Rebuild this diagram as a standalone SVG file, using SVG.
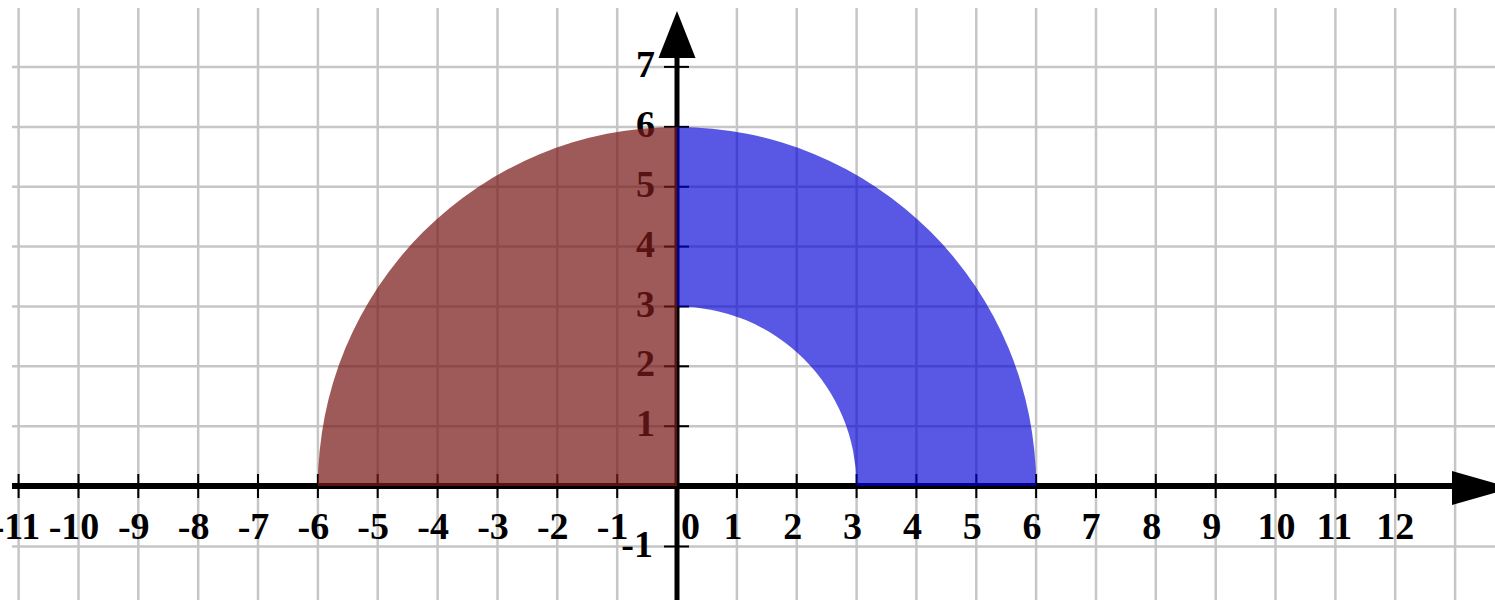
<svg xmlns="http://www.w3.org/2000/svg" width="1495" height="600" viewBox="0 0 1495 600">
<style>
.grid line{stroke:#c6c6c6;stroke-width:2.5}
.tick{stroke:#000;stroke-width:2}
.lbl{font-family:"Liberation Serif","Times New Roman",serif;font-weight:bold;font-size:38px;fill:#000}
.xl{text-anchor:middle}
.yl{text-anchor:end}
</style>
<rect x="0" y="0" width="1495" height="600" fill="#fff"/>
<g id="grid" class="grid">
<line x1="18.6" y1="8" x2="18.6" y2="600"/>
<line x1="78.5" y1="8" x2="78.5" y2="600"/>
<line x1="138.3" y1="8" x2="138.3" y2="600"/>
<line x1="198.2" y1="8" x2="198.2" y2="600"/>
<line x1="258" y1="8" x2="258" y2="600"/>
<line x1="317.9" y1="8" x2="317.9" y2="600"/>
<line x1="377.7" y1="8" x2="377.7" y2="600"/>
<line x1="437.6" y1="8" x2="437.6" y2="600"/>
<line x1="497.5" y1="8" x2="497.5" y2="600"/>
<line x1="557.3" y1="8" x2="557.3" y2="600"/>
<line x1="617.2" y1="8" x2="617.2" y2="600"/>
<line x1="736.9" y1="8" x2="736.9" y2="600"/>
<line x1="796.7" y1="8" x2="796.7" y2="600"/>
<line x1="856.6" y1="8" x2="856.6" y2="600"/>
<line x1="916.4" y1="8" x2="916.4" y2="600"/>
<line x1="976.3" y1="8" x2="976.3" y2="600"/>
<line x1="1036.1" y1="8" x2="1036.1" y2="600"/>
<line x1="1096" y1="8" x2="1096" y2="600"/>
<line x1="1155.8" y1="8" x2="1155.8" y2="600"/>
<line x1="1215.7" y1="8" x2="1215.7" y2="600"/>
<line x1="1275.5" y1="8" x2="1275.5" y2="600"/>
<line x1="1335.4" y1="8" x2="1335.4" y2="600"/>
<line x1="1395.2" y1="8" x2="1395.2" y2="600"/>
<line x1="1455.1" y1="8" x2="1455.1" y2="600"/>
<line x1="12" y1="66.9" x2="1495" y2="66.9"/>
<line x1="12" y1="126.9" x2="1495" y2="126.9"/>
<line x1="12" y1="186.8" x2="1495" y2="186.8"/>
<line x1="12" y1="246.6" x2="1495" y2="246.6"/>
<line x1="12" y1="306.5" x2="1495" y2="306.5"/>
<line x1="12" y1="366.3" x2="1495" y2="366.3"/>
<line x1="12" y1="426.2" x2="1495" y2="426.2"/>
<line x1="12" y1="546.5" x2="1495" y2="546.5"/>
</g>
<g id="axes">
<line x1="12" y1="486" x2="1455" y2="486" stroke="#000" stroke-width="6"/>
<line x1="677" y1="56" x2="677" y2="600" stroke="#000" stroke-width="5"/>
<polygon points="677,11 695.5,58 658.5,58" fill="#000"/>
<polygon points="1452,471 1512,488 1452,505" fill="#000"/>
</g>
<g id="ticks" class="tick">
<line x1="18.6" y1="474" x2="18.6" y2="498"/>
<line x1="78.5" y1="474" x2="78.5" y2="498"/>
<line x1="138.3" y1="474" x2="138.3" y2="498"/>
<line x1="198.2" y1="474" x2="198.2" y2="498"/>
<line x1="258" y1="474" x2="258" y2="498"/>
<line x1="317.9" y1="474" x2="317.9" y2="498"/>
<line x1="377.7" y1="474" x2="377.7" y2="498"/>
<line x1="437.6" y1="474" x2="437.6" y2="498"/>
<line x1="497.5" y1="474" x2="497.5" y2="498"/>
<line x1="557.3" y1="474" x2="557.3" y2="498"/>
<line x1="617.2" y1="474" x2="617.2" y2="498"/>
<line x1="736.9" y1="474" x2="736.9" y2="498"/>
<line x1="796.7" y1="474" x2="796.7" y2="498"/>
<line x1="856.6" y1="474" x2="856.6" y2="498"/>
<line x1="916.4" y1="474" x2="916.4" y2="498"/>
<line x1="976.3" y1="474" x2="976.3" y2="498"/>
<line x1="1036.1" y1="474" x2="1036.1" y2="498"/>
<line x1="1096" y1="474" x2="1096" y2="498"/>
<line x1="1155.8" y1="474" x2="1155.8" y2="498"/>
<line x1="1215.7" y1="474" x2="1215.7" y2="498"/>
<line x1="1275.5" y1="474" x2="1275.5" y2="498"/>
<line x1="1335.4" y1="474" x2="1335.4" y2="498"/>
<line x1="1395.2" y1="474" x2="1395.2" y2="498"/>
<line x1="664" y1="66.9" x2="689" y2="66.9"/>
<line x1="664" y1="126.9" x2="689" y2="126.9"/>
<line x1="664" y1="186.8" x2="689" y2="186.8"/>
<line x1="664" y1="246.6" x2="689" y2="246.6"/>
<line x1="664" y1="306.5" x2="689" y2="306.5"/>
<line x1="664" y1="366.3" x2="689" y2="366.3"/>
<line x1="664" y1="426.2" x2="689" y2="426.2"/>
<line x1="664" y1="546.5" x2="689" y2="546.5"/>
</g>
<g id="x-labels" class="lbl xl">
<text x="16" y="539">-11</text>
<text x="74" y="539">-10</text>
<text x="133.8" y="539">-9</text>
<text x="193.7" y="539">-8</text>
<text x="253.5" y="539">-7</text>
<text x="313.4" y="539">-6</text>
<text x="373.2" y="539">-5</text>
<text x="433.1" y="539">-4</text>
<text x="493" y="539">-3</text>
<text x="552.8" y="539">-2</text>
<text x="612.7" y="539">-1</text>
<text x="690.5" y="539">0</text>
<text x="732.9" y="539">1</text>
<text x="792.7" y="539">2</text>
<text x="852.6" y="539">3</text>
<text x="912.4" y="539">4</text>
<text x="972.3" y="539">5</text>
<text x="1032.1" y="539">6</text>
<text x="1091" y="539">7</text>
<text x="1151.8" y="539">8</text>
<text x="1211.7" y="539">9</text>
<text x="1276.5" y="539">10</text>
<text x="1334.4" y="539">11</text>
<text x="1395.2" y="539">12</text>
</g>
<g id="y-labels" class="lbl yl">
<text x="655" y="77">7</text>
<text x="655" y="137">6</text>
<text x="655" y="197">5</text>
<text x="655" y="257">4</text>
<text x="655" y="317">3</text>
<text x="655" y="376">2</text>
<text x="655" y="436">1</text>
<text x="653" y="557">-1</text>
</g>
<g id="regions">
<path id="quarter-disk" d="M677,486 L317.9,486 A359.1,359.1 0 0 1 677,126.9 Z" fill="rgb(120,25,25)" fill-opacity="0.72"/>
<path id="annulus" d="M677,126.9 A359.1,359.1 0 0 1 1036.1,486 L856.55,486 A179.55,179.55 0 0 0 677,306.45 Z" fill="rgb(0,0,214)" fill-opacity="0.655"/>
</g>
</svg>
